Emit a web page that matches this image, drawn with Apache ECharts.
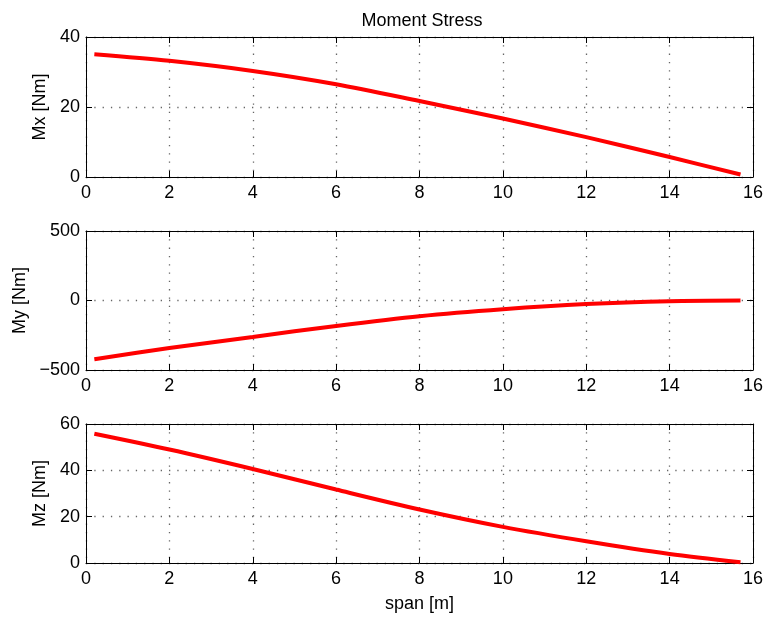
<!DOCTYPE html>
<html>
<head>
<meta charset="utf-8">
<script src="https://cdn.jsdelivr.net/npm/echarts@6/dist/echarts.min.js"></script>
<style>
  html, body { margin: 0; padding: 0; background: #fff; }
  #chart { width: 767px; height: 617px; }
</style>
</head>
<body>
<div id="chart"></div>
<script>
// Positions along the span [m]
const spanX = [0.2, 2, 4, 6, 8, 10, 12, 14, 15.7];
// Bending moments [Nm] at those positions
const mxValues = [35.1, 33.2, 30.3, 26.5, 21.7, 16.7, 11.4, 5.7, 0.7];
const myValues = [-423, -342, -262, -183, -113, -63, -26, -5, 0];
const mzValues = [55.8, 49.0, 40.6, 31.7, 23.1, 15.6, 9.4, 3.9, 0.3];

const xTicks = [0, 2, 4, 6, 8, 10, 12, 14, 16];
const panelNames = ['Mx [Nm]', 'My [Nm]', 'Mz [Nm]'];
const panelRanges = [[0, 40, 20], [-500, 500, 500], [0, 60, 20]];
const panelValues = [mxValues, myValues, mzValues];

const FONT = 'Liberation Sans, Arial, Helvetica, sans-serif';
const FS = 18;

const grids = [
  { left: 86, right: 14, top: 37, height: 140 },
  { left: 86, right: 14, top: 231, height: 139 },
  { left: 86, right: 14, top: 424, height: 139 }
];

const gridLine = { show: true, lineStyle: { color: '#666', width: 1.3, type: [1.3, 7] } };
const axLine = { show: true, onZero: false, lineStyle: { color: '#000', width: 1 } };
const inTick = { show: true, inside: true, length: 6, lineStyle: { color: '#000', width: 1 } };
const fmtNum = v => String(v).replace('-', '\u2212');

const xAxes = [], yAxes = [], series = [];
grids.forEach((g, i) => {
  const [ymin, ymax, yint] = panelRanges[i];
  // bottom axis with labels and grid
  xAxes.push({
    type: 'value', gridIndex: i, position: 'bottom', min: xTicks[0], max: xTicks[xTicks.length - 1], interval: 2,
    axisLine: axLine, axisTick: inTick, splitLine: gridLine,
    axisLabel: { color: '#000', fontFamily: FONT, fontSize: FS, margin: 7 },
    name: i === 2 ? 'span [m]' : '', nameLocation: 'middle', nameGap: 32,
    nameTextStyle: { color: '#000', fontFamily: FONT, fontSize: FS }
  });
  // mirrored top axis
  xAxes.push({
    type: 'value', gridIndex: i, position: 'top', min: xTicks[0], max: xTicks[xTicks.length - 1], interval: 2,
    axisLine: axLine, axisTick: inTick, splitLine: { show: false }, axisLabel: { show: false }
  });
  yAxes.push({
    type: 'value', gridIndex: i, position: 'left', min: ymin, max: ymax, interval: yint,
    axisLine: axLine, axisTick: inTick, splitLine: gridLine,
    axisLabel: { color: '#000', fontFamily: FONT, fontSize: FS, margin: 6, formatter: fmtNum },
    name: panelNames[i], nameLocation: 'middle', nameRotate: 90,
    nameGap: i === 1 ? 57 : 35.5,
    nameTextStyle: { color: '#000', fontFamily: FONT, fontSize: FS }
  });
  // mirrored right axis
  yAxes.push({
    type: 'value', gridIndex: i, position: 'right', min: ymin, max: ymax, interval: yint,
    axisLine: axLine, axisTick: inTick, splitLine: { show: false }, axisLabel: { show: false }
  });
  series.push({
    type: 'line', xAxisIndex: i * 2, yAxisIndex: i * 2,
    data: spanX.map((x, k) => [x, panelValues[i][k]]),
    smooth: 0.3, showSymbol: false,
    lineStyle: { color: '#ff0000', width: 4 },
    z: 5
  });
});

const chart = echarts.init(document.getElementById('chart'), null, { renderer: 'canvas' });
chart.setOption({
  animation: false,
  backgroundColor: '#fff',
  title: {
    text: 'Moment Stress', left: 417, top: 7, textAlign: 'center',
    textStyle: { color: '#000', fontFamily: FONT, fontSize: FS, fontWeight: 'normal' }
  },
  grid: grids,
  xAxis: xAxes,
  yAxis: yAxes,
  series: series
});
</script>
</body>
</html>
